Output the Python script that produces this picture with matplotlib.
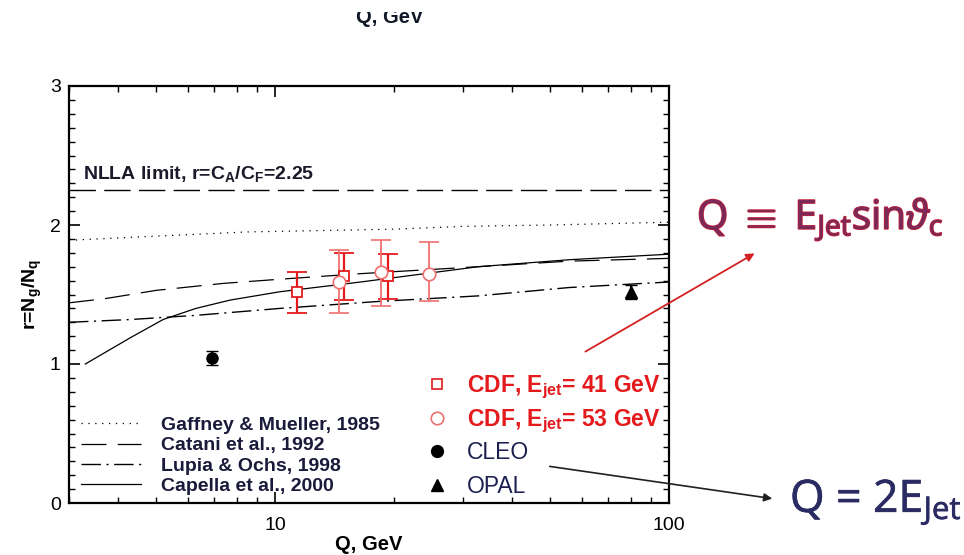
import matplotlib
matplotlib.use('Agg')
import matplotlib.pyplot as plt
import matplotlib.patheffects as pe
from matplotlib.patches import Rectangle, FancyArrowPatch
from matplotlib.ticker import FixedLocator, MultipleLocator, LogLocator, NullFormatter, FixedFormatter
import numpy as np

plt.rcParams['font.family'] = ['Liberation Sans', 'DejaVu Sans']
plt.rcParams['mathtext.fontset'] = 'custom'
plt.rcParams['mathtext.bf'] = 'Liberation Sans:bold'
plt.rcParams['mathtext.rm'] = 'Open Sans'
plt.rcParams['mathtext.it'] = 'Open Sans:italic'

# theory curves r = Ng/Nq versus Q
q_gm = [3, 5, 8.5, 13, 20, 30, 50, 100]
r_gm = [1.89, 1.92, 1.95, 1.96, 1.97, 1.99, 2.00, 2.02]
q_cat = [3, 3.7, 5, 7.4, 10.3, 16.5, 32.8, 55.7, 100]
r_cat = [1.44, 1.47, 1.53, 1.58, 1.61, 1.65, 1.70, 1.74, 1.76]
q_lo = [3, 4.3, 6.3, 10.3, 18.3, 32.8, 55.7, 100]
r_lo = [1.30, 1.32, 1.35, 1.40, 1.45, 1.49, 1.55, 1.59]
q_cap = [3.3, 4.3, 5.2, 6.3, 7.7, 10.3, 16.5, 32.8, 55.7, 100]
r_cap = [1.00, 1.19, 1.32, 1.40, 1.46, 1.52, 1.59, 1.70, 1.75, 1.79]
r_nlla = 2.25

# measurements
q_41 = [11.4, 15.0, 19.4]
r_41 = [1.52, 1.63, 1.63]
hi_41 = [1.66, 1.80, 1.79]
lo_41 = [1.37, 1.46, 1.47]
q_53 = [14.5, 18.6, 24.6]
r_53 = [1.59, 1.66, 1.65]
hi_53 = [1.82, 1.89, 1.88]
lo_53 = [1.37, 1.42, 1.45]
q_cleo = [6.9]
r_cleo = [1.04]
e_cleo = [0.05]
q_opal = [80]
r_opal = [1.52]
e_opal = [0.05]

red = '#e41a1c'
pink = '#f07070'
navy = '#1c2050'

fig = plt.figure(figsize=(9.64, 5.55), dpi=100)
W, H = 964.0, 555.0
ax = fig.add_axes([69 / W, 1 - 503 / H, 600 / W, 417 / H])
ax.set_xscale('log')
ax.set_xlim(3, 100)
ax.set_ylim(0, 3)

ax.axhline(r_nlla, color='k', lw=1.0, ls=(0, (19, 6)))
l1, = ax.plot(q_gm, r_gm, color='k', lw=0.9, ls=(0, (1, 4.5)), label='Gaffney & Mueller, 1985')
l2, = ax.plot(q_cat, r_cat, color='k', lw=0.9, ls=(0, (20, 9)), label='Catani et al., 1992')
l3, = ax.plot(q_lo, r_lo, color='k', lw=1.0, ls=(0, (14, 4, 1.5, 4)), label='Lupia & Ochs, 1998')
l4, = ax.plot(q_cap, r_cap, color='k', lw=0.9, label='Capella et al., 2000')

ax.text(3.25, 2.33, r'NLLA limit, r=C$_{\bf A}$/C$_{\bf F}$=2.25', fontsize=14,
        fontweight='bold', color='#1a1a2a')

r41 = np.array(r_41)
r53 = np.array(r_53)
ax.errorbar(q_41, r_41, yerr=[r41 - np.array(lo_41), np.array(hi_41) - r41], fmt='s',
            ms=6.5, mfc='white', mec=red, mew=1.3, ecolor=red, elinewidth=1.6, capsize=7,
            capthick=1.6, zorder=4)
ax.errorbar(q_53, r_53, yerr=[r53 - np.array(lo_53), np.array(hi_53) - r53], fmt='o',
            ms=9, mfc='white', mec=pink, mew=1.2, ecolor=pink, elinewidth=1.3, capsize=7,
            capthick=1.3, zorder=4)
ax.errorbar(q_cleo, r_cleo, yerr=e_cleo, fmt='o', ms=8, color='k', capsize=4, elinewidth=1.5)
ax.errorbar(q_opal, r_opal, yerr=e_opal, fmt='^', ms=8, color='k', capsize=4, elinewidth=1.5)

leg1 = ax.legend(handles=[l1, l2, l3, l4], loc='lower left', bbox_to_anchor=(0.02, 0.02),
                 frameon=False, borderpad=0, borderaxespad=0, handlelength=3.1,
                 handletextpad=1.0, labelspacing=0.13,
                 prop={'weight': 'bold', 'size': 14})
for t in leg1.get_texts():
    t.set_color('#1a1a3a')

# key for the measurements, one row per data set
keys = [
    (dict(marker='s', ms=7, mfc='white', mec=red, mew=1.2), r'CDF, E$_{\bf jet}$= 41 GeV', red, 'bold'),
    (dict(marker='o', ms=9, mfc='white', mec=pink, mew=1.2), r'CDF, E$_{\bf jet}$= 53 GeV', red, 'bold'),
    (dict(marker='o', ms=8.5, color='k'), 'CLEO', navy, 'normal'),
    (dict(marker='^', ms=8.5, color='k'), 'OPAL', navy, 'normal'),
]
row_y = [0.285, 0.204, 0.125, 0.043]
for (mk, lab, col, wt), yy in zip(keys, row_y):
    ax.plot([0.613], [yy], ls='none', transform=ax.transAxes, clip_on=False, **mk)
    ax.text(0.663, yy - 0.019, lab, transform=ax.transAxes, fontsize=16.5, color=col,
            fontweight=wt, va='baseline')

ax.xaxis.set_major_locator(FixedLocator([10, 100]))
ax.xaxis.set_major_formatter(FixedFormatter(['10', '100']))
ax.xaxis.set_minor_locator(LogLocator(base=10, subs=np.arange(2, 10)))
ax.xaxis.set_minor_formatter(NullFormatter())
ax.yaxis.set_major_locator(MultipleLocator(1))
ax.yaxis.set_minor_locator(MultipleLocator(0.1))
ax.tick_params(which='both', direction='in', top=True, right=True, labelsize=14)
ax.tick_params(which='major', length=8, width=1.2, pad=6)
ax.tick_params(axis='x', which='major', pad=10)
ax.tick_params(which='minor', length=4, width=1.0)
for s in ax.spines.values():
    s.set_linewidth(1.6)

ax.set_xlabel('Q, GeV', fontsize=14.5, fontweight='bold', labelpad=1)
ax.set_ylabel(r'r=N$_{\bf g}$/N$_{\bf q}$', fontsize=14, fontweight='bold', labelpad=4)

# leftover axis title from the panel above, cut by the frame
fig.text(390 / W, 1 - 23 / H, 'Q, GeV', fontsize=14.5, fontweight='bold', ha='center',
         va='baseline', color='#101828')
fig.add_artist(Rectangle((0, 1 - 12 / H), 1, 12 / H, transform=fig.transFigure,
                         facecolor='white', edgecolor='none', zorder=10))

fig.text(697 / W, 1 - 229 / H, r'Q $\equiv$ E$_{\rm Jet}$sin$\vartheta_{\rm c}$',
         fontsize=29, color='#7a2a58', family='Open Sans', va='baseline',
         path_effects=[pe.withStroke(linewidth=1.2, foreground='#c0203a')])
fig.text(790 / W, 1 - 512 / H, r'Q = 2E$_{\rm Jet}$', fontsize=32, color='#2b2b63',
         family='Open Sans', va='baseline',
         path_effects=[pe.withStroke(linewidth=0.5, foreground='#2b2b63')])

fig.add_artist(FancyArrowPatch(
    (583 / W, 1 - 353 / H), (757 / W, 1 - 252 / H), transform=fig.transFigure,
    arrowstyle='-|>', mutation_scale=12, color='#d42020', lw=1.3))
fig.add_artist(FancyArrowPatch(
    (547 / W, 1 - 466 / H), (775 / W, 1 - 499 / H), transform=fig.transFigure,
    arrowstyle='-|>', mutation_scale=12, color='#202020', lw=1.2))

fig.savefig('out.png', dpi=100)
